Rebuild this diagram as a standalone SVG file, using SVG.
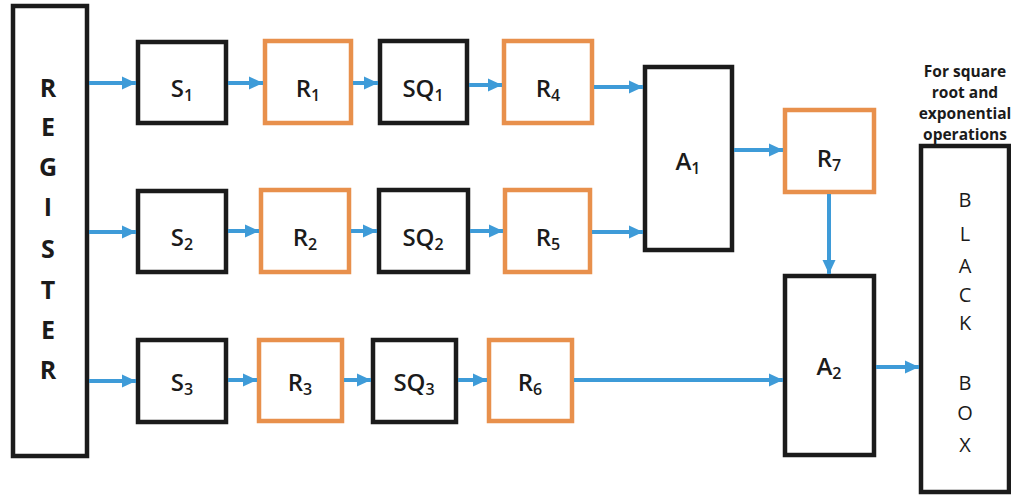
<svg xmlns="http://www.w3.org/2000/svg" width="1011" height="495" viewBox="0 0 1011 495">
  <defs>
    <marker id="head" markerUnits="userSpaceOnUse" markerWidth="15" markerHeight="15" viewBox="0 0 15 15" refX="14" refY="7.5" orient="auto">
      <path d="M0,1 L14,7.5 L0,14 Z" fill="#3E9BD8"/>
    </marker>
    <style>
      .blk { fill: #ffffff; stroke: #1b1b1b; stroke-width: 4.5; }
      .reg { fill: #ffffff; stroke: #E8904C; stroke-width: 4.5; }
      .lbl { font-family: "Open Sans", "Liberation Sans", sans-serif; font-size: 24px; font-weight: 600; fill: #1b1b1b; text-anchor: middle; }
      .sub { font-size: 16px; }
      .tall { font-family: "Open Sans", "Liberation Sans", sans-serif; font-size: 25px; font-weight: 700; fill: #1b1b1b; text-anchor: middle; }
      .box { font-family: "Open Sans", "Liberation Sans", sans-serif; font-size: 20px; font-weight: 500; fill: #1b1b1b; text-anchor: middle; }
      .note { font-family: "Open Sans", "Liberation Sans", sans-serif; font-size: 15.5px; font-weight: 700; fill: #1b1b1b; text-anchor: middle; }
      .wire { fill: none; stroke: #3E9BD8; stroke-width: 4; marker-end: url(#head); }
    </style>
  </defs>
  <rect width="1011" height="495" fill="#ffffff"/>

  <!-- register column -->
  <g id="register">
    <rect class="blk" x="13" y="6" width="74" height="450"/>
    <text class="tall" x="48" y="97">R</text>
    <text class="tall" x="48" y="136">E</text>
    <text class="tall" x="48" y="176">G</text>
    <text class="tall" x="48" y="216">I</text>
    <text class="tall" x="48" y="258">S</text>
    <text class="tall" x="48" y="299">T</text>
    <text class="tall" x="48" y="339">E</text>
    <text class="tall" x="48" y="379">R</text>
  </g>

  <!-- row 1 -->
  <g id="S1"><rect class="blk" x="138" y="42" width="88" height="81"/><text class="lbl" x="182" y="97">S<tspan class="sub" dy="4">1</tspan></text></g>
  <g id="R1"><rect class="reg" x="265" y="41" width="86" height="82"/><text class="lbl" x="308" y="97">R<tspan class="sub" dy="4">1</tspan></text></g>
  <g id="SQ1"><rect class="blk" x="380" y="41" width="87" height="82"/><text class="lbl" x="423" y="97">SQ<tspan class="sub" dy="4">1</tspan></text></g>
  <g id="R4"><rect class="reg" x="504" y="41" width="88" height="82"/><text class="lbl" x="548" y="97">R<tspan class="sub" dy="4">4</tspan></text></g>

  <!-- row 2 -->
  <g id="S2"><rect class="blk" x="138" y="191" width="88" height="81"/><text class="lbl" x="182" y="246">S<tspan class="sub" dy="4">2</tspan></text></g>
  <g id="R2"><rect class="reg" x="261" y="190" width="88" height="82"/><text class="lbl" x="305" y="246">R<tspan class="sub" dy="4">2</tspan></text></g>
  <g id="SQ2"><rect class="blk" x="379" y="190" width="89" height="82"/><text class="lbl" x="423" y="246">SQ<tspan class="sub" dy="4">2</tspan></text></g>
  <g id="R5"><rect class="reg" x="505" y="190" width="85" height="82"/><text class="lbl" x="548" y="246">R<tspan class="sub" dy="4">5</tspan></text></g>

  <!-- row 3 -->
  <g id="S3"><rect class="blk" x="138" y="340" width="88" height="82"/><text class="lbl" x="182" y="391">S<tspan class="sub" dy="4">3</tspan></text></g>
  <g id="R3"><rect class="reg" x="259" y="340" width="83" height="81"/><text class="lbl" x="300" y="391">R<tspan class="sub" dy="4">3</tspan></text></g>
  <g id="SQ3"><rect class="blk" x="373" y="340" width="83" height="82"/><text class="lbl" x="414" y="391">SQ<tspan class="sub" dy="4">3</tspan></text></g>
  <g id="R6"><rect class="reg" x="489" y="340" width="83" height="81"/><text class="lbl" x="530" y="391">R<tspan class="sub" dy="4">6</tspan></text></g>

  <!-- adders and output stage -->
  <g id="A1"><rect class="blk" x="645" y="67" width="87" height="183"/><text class="lbl" x="688" y="170">A<tspan class="sub" dy="4">1</tspan></text></g>
  <g id="R7"><rect class="reg" x="785" y="110" width="89" height="82"/><text class="lbl" x="829" y="167">R<tspan class="sub" dy="4">7</tspan></text></g>
  <g id="A2"><rect class="blk" x="785" y="276" width="89" height="179"/><text class="lbl" x="829" y="375">A<tspan class="sub" dy="4">2</tspan></text></g>

  <g id="blackbox">
    <text class="note" x="965" y="77">For square</text>
    <text class="note" x="965" y="98">root and</text>
    <text class="note" x="965" y="119">exponential</text>
    <text class="note" x="965" y="140">operations</text>
    <rect class="blk" x="921" y="146" width="88" height="346"/>
    <text class="box" x="965" y="207">B</text>
    <text class="box" x="965" y="241">L</text>
    <text class="box" x="965" y="273">A</text>
    <text class="box" x="965" y="302">C</text>
    <text class="box" x="965" y="330">K</text>
    <text class="box" x="965" y="390">B</text>
    <text class="box" x="965" y="420">O</text>
    <text class="box" x="965" y="452">X</text>
  </g>

  <!-- connectors -->
  <g id="connectors">
    <path class="wire" d="M89,83 H136"/>
    <path class="wire" d="M228,83 H263"/>
    <path class="wire" d="M353,83 H378"/>
    <path class="wire" d="M469,85 H502"/>
    <path class="wire" d="M594,87 H643"/>

    <path class="wire" d="M89,232 H136"/>
    <path class="wire" d="M228,231 H259"/>
    <path class="wire" d="M351,231 H377"/>
    <path class="wire" d="M470,231 H503"/>
    <path class="wire" d="M592,232 H643"/>

    <path class="wire" d="M89,381 H136"/>
    <path class="wire" d="M228,380 H257"/>
    <path class="wire" d="M344,380 H371"/>
    <path class="wire" d="M458,380 H487"/>
    <path class="wire" d="M574,380 H783"/>

    <path class="wire" d="M734,150 H783"/>
    <path class="wire" d="M829,194 V274"/>
    <path class="wire" d="M876,367 H919"/>
  </g>
</svg>
